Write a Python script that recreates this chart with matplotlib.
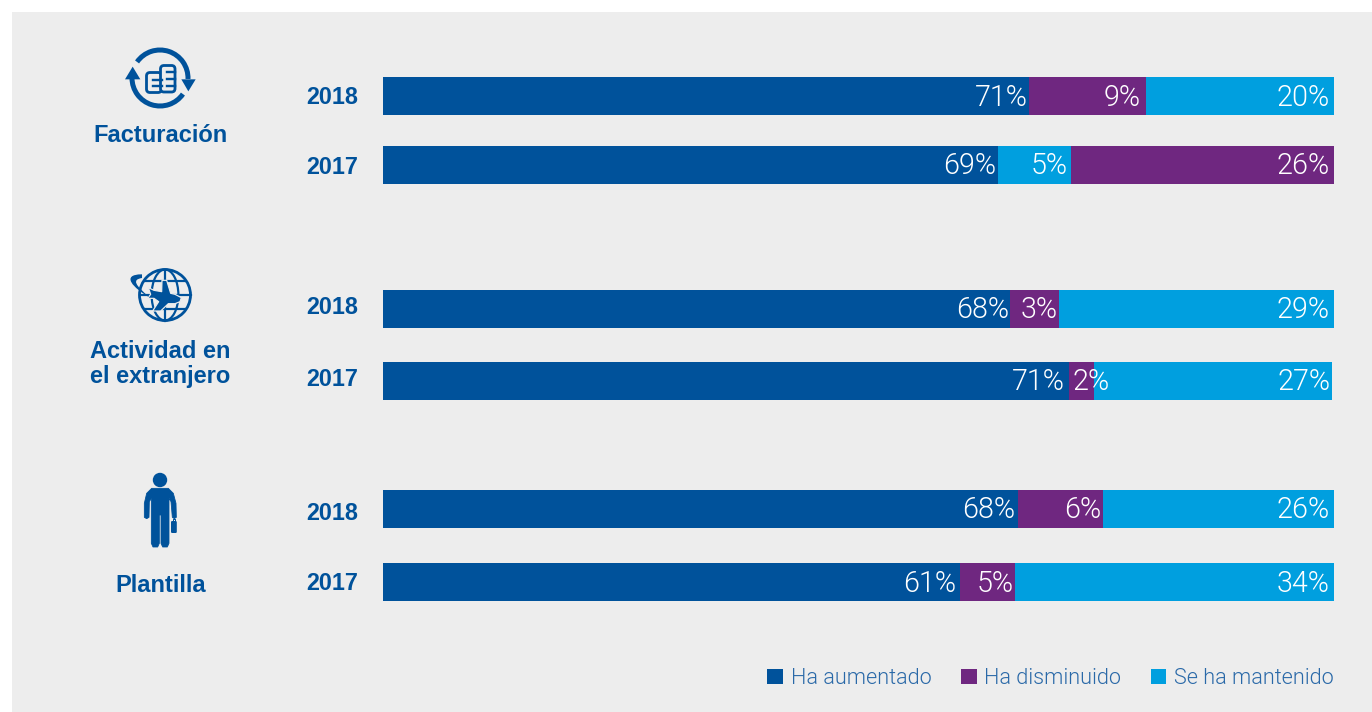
import matplotlib
matplotlib.use("Agg")
import matplotlib.pyplot as plt
from matplotlib.patches import Rectangle, Circle, Ellipse, Arc, Polygon, FancyBboxPatch, PathPatch
from matplotlib.path import Path

# ---------- data ----------
years = ["2018", "2017", "2018", "2017", "2018", "2017"]
groups = ["Facturación", "Actividad en\nel extranjero", "Plantilla"]
series_names = ["Ha aumentado", "Ha disminuido", "Se ha mantenido"]
# printed percentages
aumentado_labels = [71, 69, 68, 71, 68, 61]
disminuido_labels = [9, 26, 3, 2, 6, 5]
mantenido_labels = [20, 5, 29, 27, 26, 34]
# drawn segment lengths (share of bar track)
aumentado_drawn = [67.9, 64.7, 65.9, 72.2, 66.8, 60.7]
disminuido_drawn = [12.3, 27.7, 5.2, 2.7, 8.9, 5.8]
mantenido_drawn = [19.8, 7.6, 28.9, 25.0, 24.3, 33.5]
# ---------- layout / style ----------
bar_y = [96, 165, 309, 381, 509, 582]
year_y = [98, 168, 308, 380, 513, 583]
row_start = [0, 0, 0, -0.1, 0, 0]
stack_order = [(0, 1, 2), (0, 2, 1), (0, 1, 2), (0, 1, 2), (0, 1, 2), (0, 1, 2)]
label_inset = [(1, 5, 4), (2, 4, 3), (1, 2, 4), (4, -15, 2), (3, 2, 4), (4, 2, 4)]
group_y = [135, 364, 585]
colors = ["#00529B", "#6F2780", "#009FDF"]
ink = "#00529B"
panel = "#EDEDED"
W, H = 1372, 712

fig = plt.figure(figsize=(W / 100, H / 100), dpi=100, facecolor="white")
fig.add_artist(Rectangle((12 / W, 0), (W - 12) / W, (H - 12) / H, transform=fig.transFigure,
                         facecolor=panel, edgecolor="none", zorder=-5))

# Bars axes: x in % of the track, y in picture rows
ax = fig.add_axes([383 / W, 0, 951 / W, 1])
ax.set_xlim(0, 100)
ax.set_ylim(H, 0)
ax.axis("off")

drawn = [aumentado_drawn, disminuido_drawn, mantenido_drawn]
printed = [aumentado_labels, disminuido_labels, mantenido_labels]
handles = [None, None, None]
for r, y in enumerate(bar_y):
    left = row_start[r]
    for s in stack_order[r]:
        w = drawn[s][r]
        b = ax.barh(y, w, left=left, height=38, color=colors[s], linewidth=0, zorder=2)
        handles[s] = b[0]
        left += w
        ax.annotate(f"{printed[s][r]}%", (left, y + 1.5), xytext=(-label_inset[r][s], 0),
                    textcoords="offset pixels", ha="right", va="center", color="white",
                    fontsize=20.6, family="Roboto", fontweight=300, zorder=4)

leg = ax.legend(handles, series_names, loc="lower right", bbox_to_anchor=(1.0, 23 / H),
                ncols=3, frameon=False, prop={"family": "Roboto", "size": 15.6, "weight": 300},
                labelcolor="#2A69A8", handlelength=0.72, handleheight=0.72, handletextpad=0.36,
                columnspacing=1.36, borderpad=0, borderaxespad=0)

# Overlay in picture pixels for row labels and icons
ov = fig.add_axes([0, 0, 1, 1], facecolor="none")
ov.set_xlim(0, W)
ov.set_ylim(H, 0)
ov.axis("off")

for y, t in zip(year_y, years):
    ov.text(358, y, t, ha="right", va="center", color=ink, fontsize=16.8,
            family="Liberation Sans", fontweight="bold")
for y, t in zip(group_y, groups):
    ov.text(160.5, y, t, ha="center", va="center", color=ink, fontsize=17, linespacing=1.15,
            family="Liberation Sans", fontweight="bold", multialignment="center")

px = 0.72  # points per pixel


def z(ox, oy, pts):
    return [(ox + a / 3, oy + b / 3) for a, b in pts]


# --- icon 1: coins with circular arrows
cx, cy, r = 160, 78, 28
ov.add_patch(Arc((cx, cy), 2 * r, 2 * r, theta1=215, theta2=362, color=ink, lw=5 * px))
ov.add_patch(Arc((cx, cy), 2 * r, 2 * r, theta1=35, theta2=180, color=ink, lw=5 * px))
ov.add_patch(Polygon(z(80, 30, [(135, 148), (158, 110), (181, 148)]), color=ink, lw=0))
ov.add_patch(Polygon(z(80, 30, [(304, 148), (347, 148), (325, 184)]), color=ink, lw=0))
for (x0, y0, w, h), rows in (((146.5, 72.5, 15, 20), (80, 86)), ((160.5, 65.5, 14.5, 26.5), (72, 79, 86))):
    ov.add_patch(FancyBboxPatch((x0, y0), w, h, boxstyle="round,pad=0,rounding_size=3.5",
                                fc=panel, ec=ink, lw=2.8 * px, zorder=3))
    for ry in rows:
        ov.plot([x0 + w * 0.42, x0 + w], [ry, ry], color=ink, lw=2.4 * px, zorder=4)

# --- icon 2: globe with plane
gx, gy, gr = 165, 295, 25.5
ov.add_patch(Circle((gx, gy), gr, fc="none", ec=ink, lw=2.8 * px))
ov.add_patch(Ellipse((gx, gy), gr * 1.05, 2 * gr, fc="none", ec=ink, lw=2.2 * px))
ov.plot([gx, gx], [gy - gr, gy + gr], color=ink, lw=2.2 * px)
ov.plot([gx - gr, gx + gr], [gy, gy], color=ink, lw=2.2 * px)
for dy, hw in ((-14, 20.5), (14, 20.5)):
    ov.plot([gx - hw, gx + hw], [gy + dy, gy + dy], color=ink, lw=2.2 * px)
plane = z(80, 255, [(205, 98), (222, 106), (245, 110), (246, 76), (260, 76), (272, 115), (285, 118),
                    (304, 128), (300, 140), (285, 146), (265, 146), (242, 168), (218, 168),
                    (236, 140), (222, 130), (203, 130), (212, 118)])
ov.add_patch(Polygon(plane, fc=ink, ec=panel, lw=1.2 * px, joinstyle="round", zorder=3))
sw = z(80, 255, [(186, 58), (120, 58), (160, 100), (210, 128), (165, 90), (155, 74), (186, 69), (186, 58)])
ov.add_patch(PathPatch(Path(sw, [Path.MOVETO, Path.CURVE4, Path.CURVE4, Path.CURVE4,
                                 Path.CURVE4, Path.CURVE4, Path.CURVE4, Path.CLOSEPOLY]),
                       fc=ink, ec="none", zorder=4))

# --- icon 3: person with briefcase
ov.add_patch(Circle(z(80, 460, [(240, 60)])[0], 7.2, fc=ink, ec="none"))
body = z(80, 460, [(193, 172), (193, 130), (200, 100), (215, 85), (265, 85), (280, 100), (288, 130),
                   (289, 172), (283, 176), (277, 172), (273, 125), (267, 115), (267, 250), (262, 261),
                   (248, 261), (243, 250), (243, 165), (238, 165), (238, 250), (233, 261), (219, 261),
                   (214, 250), (214, 115), (208, 125), (207, 172), (200, 176)])
ov.add_patch(Polygon(body, fc=ink, ec=ink, lw=0.8 * px, joinstyle="round"))
ov.add_patch(FancyBboxPatch((171, 521), 5.8, 12, boxstyle="round,pad=0,rounding_size=1.2", fc=ink, ec="none"))
ov.plot([172.5, 172.5, 175.3, 175.3], [521, 519, 519, 521], color=ink, lw=1 * px)

fig.savefig("out.png", dpi=100, facecolor="white")
